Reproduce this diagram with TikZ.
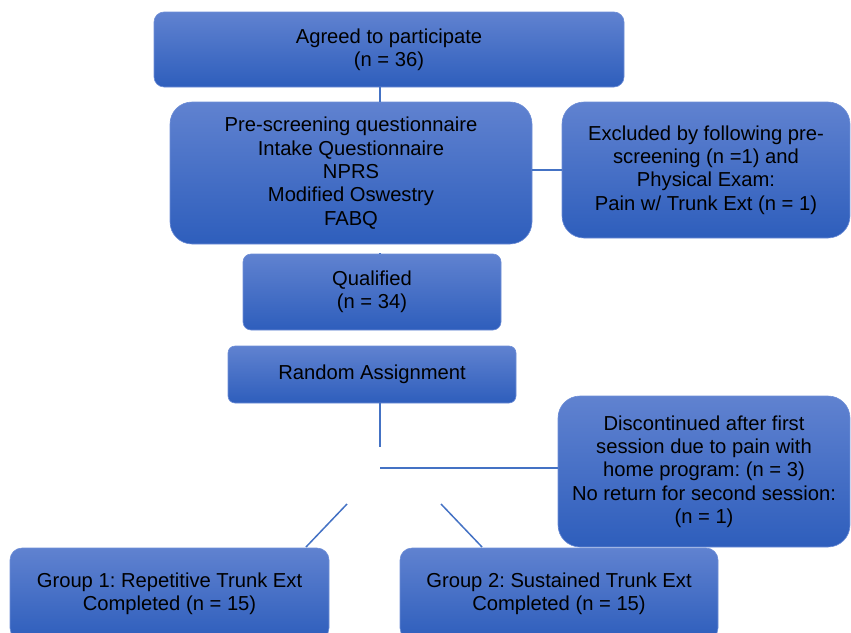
\documentclass[tikz,border=0pt]{standalone}
\usepackage{fontspec}
\setmainfont{Liberation Sans}
\frenchspacing
\definecolor{boxtop}{RGB}{96,130,208}
\definecolor{boxbot}{RGB}{46,94,188}
\definecolor{boxedge}{RGB}{110,142,214}
\definecolor{linkc}{RGB}{68,114,196}
\begin{document}
\begin{tikzpicture}[x=1pt,y=-1pt,
  flowbox/.style={rectangle, top color=boxtop, bottom color=boxbot, draw=boxedge, line width=0.6pt,
    align=center, text=black, inner sep=0pt, font=\fontsize{20.2}{23.3}\selectfont\frenchspacing},
  link/.style={draw=linkc, line width=1.5pt}]
\useasboundingbox (0,0) rectangle (851,632);
\clip (0,0) rectangle (851,632);
\node[flowbox, rounded corners=10pt, minimum width=470pt, minimum height=75pt] (agree) at (389,49.5)
  {Agreed to participate\\(n = 36)};
\node[flowbox, rounded corners=22pt, minimum width=362pt, minimum height=142pt] (pre) at (351,173)
  {Pre-screening questionnaire\\Intake Questionnaire\\NPRS\\Modified Oswestry\\FABQ};
\node[flowbox, rounded corners=22pt, minimum width=288pt, minimum height=136pt] (excl) at (706,170)
  {Excluded by following pre-\\screening (n =1) and\\Physical Exam:\\Pain w/ Trunk Ext (n = 1)};
\node[flowbox, rounded corners=8pt, minimum width=258pt, minimum height=76pt] (qual) at (372,292)
  {Qualified\\(n = 34)};
\node[flowbox, rounded corners=7pt, minimum width=288pt, minimum height=57pt] (rand) at (372,374.5)
  {Random Assignment};
\node[flowbox, rounded corners=22pt, minimum width=292pt, minimum height=151pt] (disc) at (704,471.5)
  {Discontinued after first\\session due to pain with\\home program: (n = 3)\\No return for second session:\\(n = 1)};
\node[flowbox, rounded corners=12pt, minimum width=319pt, minimum height=92pt] (grpa) at (169.5,594)
  {Group 1: Repetitive Trunk Ext\\Completed (n = 15)};
\node[flowbox, rounded corners=12pt, minimum width=318pt, minimum height=92pt] (grpb) at (559,594)
  {Group 2: Sustained Trunk Ext\\Completed (n = 15)};
\coordinate (spine) at (380,0);
\coordinate (jend) at (380,447);
\coordinate (hstart) at (380,468);
\coordinate (la) at (347,504);
\coordinate (lb) at (306,547);
\coordinate (ra) at (441,504);
\coordinate (rb) at (482,547);
\draw[link] (agree.south -| spine) -- (pre.north -| spine);
\draw[link] ([yshift=-9pt]pre.south -| spine) -- (qual.north -| spine);
\draw[link] (pre.east |- excl.west) -- (excl.west);
\draw[link] (rand.south -| spine) -- (jend);
\draw[link] (hstart) -- (hstart -| disc.west);
\draw[link] (la) -- (lb);
\draw[link] (ra) -- (rb);
\end{tikzpicture}
\end{document}
